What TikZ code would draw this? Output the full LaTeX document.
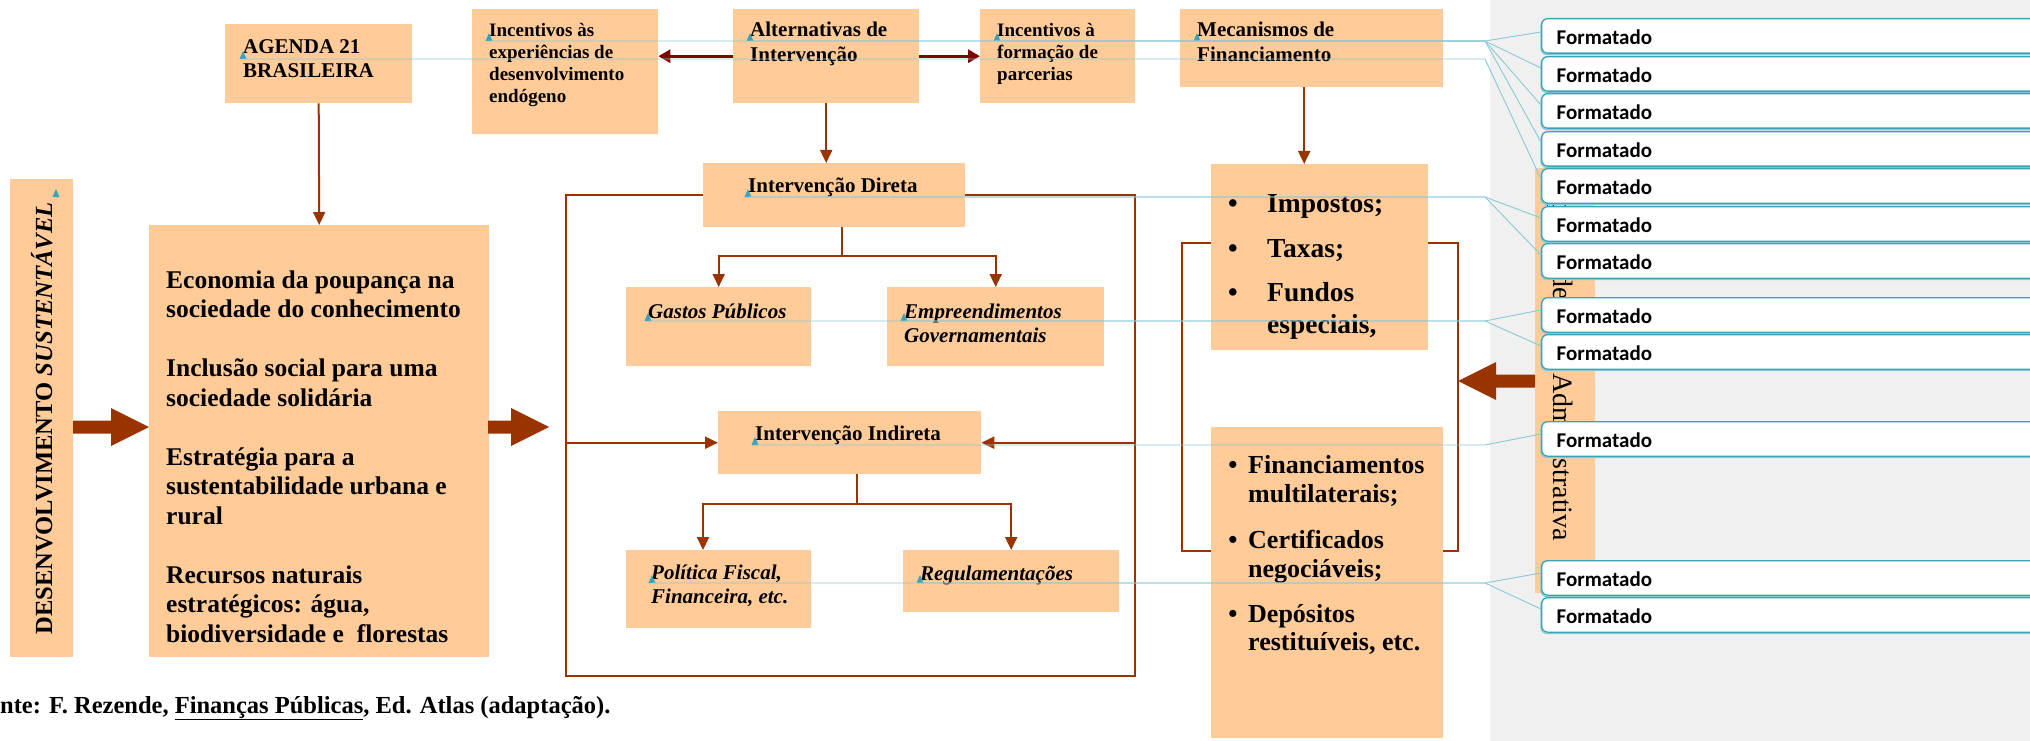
\documentclass[tikz,border=0pt]{standalone}
\usepackage{fontspec}
\setmainfont{Liberation Serif}
\newfontfamily\balfont{Carlito}
\usetikzlibrary{arrows.meta}
\definecolor{peach}{RGB}{255,204,153}
\definecolor{brn}{RGB}{153,51,0}
\definecolor{mar}{RGB}{128,0,0}
\definecolor{tealb}{RGB}{58,163,184}
\definecolor{teall}{RGB}{138,200,212}
\definecolor{panel}{RGB}{240,240,240}
\newcommand\bx[5]{\node[peachbox,minimum width={(#4-#2)*1pt},minimum height={(#5-#3)*1pt}] (#1) at (#2,#3) {};}
\newcommand\tlines[6]{\foreach \tx [count=\ii from 0] in {#6}{\node[anchor=base west,inner sep=0pt,font=#2] (#1\ii) at (#3,{#4+\ii*#5}) {\tx};}}
\newcommand\mk[3]{\coordinate (#1) at (#2,#3); \fill[tealb] (#1) ++(-3.5,0) -- ++(7,0) -- ++(-3.5,-8) -- cycle;}
\newcommand\bitem[5]{\node[anchor=base west,inner sep=0pt,font=#4] (#1t) at (#3,#2) {#5};}
\newcommand\bbul[4]{\node[anchor=base,inner sep=0pt,font=#4] (#1b) at (#3,#2) {\textbullet};}
\begin{document}
\begin{tikzpicture}[x=1pt,y=-1pt,
  peachbox/.style={fill=peach,draw=none,inner sep=0pt,anchor=north west},
  framebox/.style={draw=brn,line width=1.6pt,inner sep=0pt,anchor=north west},
  ln/.style={draw=brn,line width=2pt},
  arr/.style={draw=brn,line width=2pt,-{Triangle[length=13pt,width=12pt]}},
  marr/.style={draw=mar,line width=3pt,-{Triangle[length=12pt,width=13pt]}},
  tealline/.style={draw=teall,line width=0.9pt},
  balloon/.style={anchor=north west,draw=tealb,fill=white,line width=1.3pt,rounded corners=6pt,
     minimum width=560pt,minimum height=34.5pt,text width=530pt,align=left,inner xsep=11pt,inner ysep=0pt,
     text height=17pt,text depth=0pt,font={\balfont\bfseries\fontsize{21}{24}\selectfont}}]
\useasboundingbox (0,0) rectangle (2030,741);
\clip (0,0) rectangle (2030,741);
% panel
\fill[panel] (1490,0) rectangle (2030,741);
% frames
\node[framebox,minimum width=569pt,minimum height=481pt] (fr1) at (565,194) {};
\node[framebox,minimum width=276pt,minimum height=308pt] (fr2) at (1181,242) {};
% boxes
\bx{des}{10}{179}{73}{657}
\bx{big}{149}{225}{489}{657}
\bx{agenda}{225}{24}{412}{103}
\bx{incA}{472}{9}{658}{134}
\bx{alt}{733}{9}{919}{103}
\bx{incB}{980}{9}{1135}{103}
\bx{mec}{1180}{9}{1443}{87}
\bx{dir}{703}{163}{965}{227}
\bx{gas}{626}{287}{811}{366}
\bx{emp}{887}{287}{1104}{366}
\bx{ind}{718}{411}{981}{474}
\bx{pol}{626}{550}{811}{628}
\bx{reg}{903}{550}{1119}{612}
\bx{imp}{1211}{164}{1428}{350}
\bx{fin}{1211}{427}{1443}{738}
\bx{adm}{1535}{168}{1595}{593}
% texts
\node[rotate=90,anchor=base,inner sep=0pt,font={\bfseries\fontsize{24.6}{28}\selectfont}] (dest) at (52,418.5) {DESENVOLVIMENTO \textit{SUSTENTÁVEL}};
\tlines{bigt}{\bfseries\fontsize{25.5}{29}\selectfont}{166}{288}{29.5}{Economia da poupança na, sociedade do conhecimento, {}, Inclusão social para uma, sociedade solidária, {}, Estratégia para a, sustentabilidade urbana e, rural, {}, Recursos naturais, {estratégicos: água,}, {biodiversidade e~ florestas}}
\tlines{agt}{\bfseries\fontsize{21}{24}\selectfont}{243}{54}{24}{AGENDA 21, BRASILEIRA}
\tlines{iat}{\bfseries\fontsize{19}{22}\selectfont}{489}{37}{21.7}{Incentivos às, experiências de, desenvolvimento, endógeno}
\tlines{altt}{\bfseries\fontsize{21}{24}\selectfont}{750}{37}{25}{Alternativas de, Intervenção}
\tlines{ibt}{\bfseries\fontsize{19}{22}\selectfont}{997}{37}{21.7}{Incentivos à, formação de, parcerias}
\tlines{mect}{\bfseries\fontsize{21}{24}\selectfont}{1197}{37}{25}{Mecanismos de, Financiamento}
\tlines{dirt}{\bfseries\fontsize{21}{24}\selectfont}{748}{193}{24}{Intervenção Direta}
\tlines{gast}{\bfseries\itshape\fontsize{21}{24}\selectfont}{648}{318}{24}{Gastos Públicos}
\tlines{empt}{\bfseries\itshape\fontsize{21}{24}\selectfont}{904}{318}{24}{Empreendimentos, Governamentais}
\tlines{indt}{\bfseries\fontsize{21}{24}\selectfont}{755}{440}{24}{Intervenção Indireta}
\tlines{polt}{\bfseries\itshape\fontsize{21}{24}\selectfont}{651}{579}{24}{{Política Fiscal,}, {Financeira, etc.}}
\tlines{regt}{\bfseries\itshape\fontsize{21}{24}\selectfont}{920}{580}{24}{Regulamentações}
% bullet box 1
\bitem{i1}{212}{1267}{\bfseries\fontsize{27.5}{32}\selectfont}{Impostos;}
\bbul{i1}{212}{1233}{\bfseries\fontsize{27.5}{32}\selectfont}
\bitem{i2}{257}{1267}{\bfseries\fontsize{27.5}{32}\selectfont}{Taxas;}
\bbul{i2}{257}{1233}{\bfseries\fontsize{27.5}{32}\selectfont}
\bitem{i3}{301}{1267}{\bfseries\fontsize{27.5}{32}\selectfont}{Fundos}
\bbul{i3}{301}{1233}{\bfseries\fontsize{27.5}{32}\selectfont}
\bitem{i4}{333}{1267}{\bfseries\fontsize{27.5}{32}\selectfont}{especiais,}
% bullet box 2
\bitem{f1}{473}{1248}{\bfseries\fontsize{26}{29}\selectfont}{Financiamentos}
\bbul{f1}{473}{1233}{\bfseries\fontsize{26}{29}\selectfont}
\bitem{f2}{502}{1248}{\bfseries\fontsize{26}{29}\selectfont}{multilaterais;}
\bitem{f3}{548}{1248}{\bfseries\fontsize{26}{29}\selectfont}{Certificados}
\bbul{f3}{548}{1233}{\bfseries\fontsize{26}{29}\selectfont}
\bitem{f4}{577}{1248}{\bfseries\fontsize{26}{29}\selectfont}{negociáveis;}
\bitem{f5}{622}{1248}{\bfseries\fontsize{26}{29}\selectfont}{Depósitos}
\bbul{f5}{622}{1233}{\bfseries\fontsize{26}{29}\selectfont}
\bitem{f6}{650}{1248}{\bfseries\fontsize{26}{29}\selectfont}{restituíveis, etc.}
% admin column text
\node[rotate=-90,anchor=base east,inner sep=0pt,font=\fontsize{28}{32}\selectfont] (admt1) at (1553,300) {Capacidade};
\node[rotate=-90,anchor=base west,inner sep=0pt,font=\fontsize{28}{32}\selectfont] (admt2) at (1553,373) {Administrativa};
% connectors
\draw[arr] (agenda.south) -- (big.north);
\draw[marr] (alt.west) -- (alt.west -| incA.east);
\draw[marr] (alt.east) -- (incB.west);
\draw[arr] (alt.south) -- (alt.south |- dir.north);
\draw[arr] ([xshift=-7.5pt]mec.south) -- ([xshift=-7.5pt]mec.south |- imp.north);
\coordinate (jd) at (842,256);
\draw[ln] (dir.south -| jd) -- (jd);
\draw[arr] (jd) -| (gas.north);
\draw[arr] (jd) -| (emp.north);
\coordinate (ji) at (857,504);
\coordinate (polin) at (703,550);
\draw[ln] (ind.south -| ji) -- (ji);
\draw[arr] (ji) -| (polin);
\draw[arr] (ji) -| (reg.north);
\draw[arr] (fr1.west |- ind.west) -- (ind.west);
\draw[arr] (fr1.east |- ind.east) -- (ind.east);
% block arrows
\fill[brn] (73,420.5) -- (111,420.5) -- (111,408) -- (149,427) -- (111,446) -- (111,433.5) -- (73,433.5) -- cycle;
\fill[brn] (488,420.5) -- (511,420.5) -- (511,408) -- (549,427) -- (511,446) -- (511,433.5) -- (488,433.5) -- cycle;
\fill[brn] (1535,374.5) -- (1496,374.5) -- (1496,362) -- (1458,381) -- (1496,400) -- (1496,387.5) -- (1535,387.5) -- cycle;
% markers
\mk{mdes}{56}{197}
\mk{mag}{243}{59}
\mk{mia}{489}{41}
\mk{malt}{750}{41}
\mk{mib}{997}{41}
\mk{mmec}{1197}{41}
\mk{mdir}{748}{197}
\mk{mgas}{648}{321}
\mk{memp}{904}{321}
\mk{mind}{755}{445}
\mk{mpol}{652}{583}
\mk{mreg}{920}{583}
% balloons
\foreach \bt [count=\ii] in {18,56,93,131,168,206,243,297,334,421,560,597}{
  \draw[teall,line width=1.3pt,rounded corners=6pt] (1541,\bt+2) rectangle (2101,\bt+36.5);
  \node[balloon] (b\ii) at (1541,\bt) {Formatado};
}
% teal comment lines
\draw[tealline] (mia) -- (1485,41) -- ([yshift=-14pt]b1.north west);
\draw[tealline] (malt) -- (1485,41) -- ([yshift=-12pt]b2.north west);
\draw[tealline] (mib) -- (1485,41) -- ([yshift=-12pt]b3.north west);
\draw[tealline] (mmec) -- (1485,41) -- ([yshift=-11pt]b4.north west);
\draw[tealline] (mag) -- (1485,59) -- ([yshift=-11pt]b5.north west);
\draw[tealline] (mdir) -- (1485,197) -- ([yshift=-12pt]b6.north west);
\draw[tealline] (mdir) -- (1485,197) -- ([yshift=-12pt]b7.north west);
\draw[tealline] (mgas) -- (1485,321) -- ([yshift=-13pt]b8.north west);
\draw[tealline] (memp) -- (1485,321) -- ([yshift=-12pt]b9.north west);
\draw[tealline] (mind) -- (1485,445) -- ([yshift=-13pt]b10.north west);
\draw[tealline] (mpol) -- (1485,583) -- ([yshift=-13pt]b11.north west);
\draw[tealline] (mreg) -- (1485,583) -- ([yshift=-12pt]b12.north west);
% caption
\node[anchor=base west,inner sep=0pt,font={\bfseries\fontsize{24.5}{28}\selectfont}] (cap) at (0,713) {\llap{Fo}nte: F. Rezende, \underline{Finanças Públicas}, Ed. Atlas (adaptação).};
\end{tikzpicture}
\end{document}
